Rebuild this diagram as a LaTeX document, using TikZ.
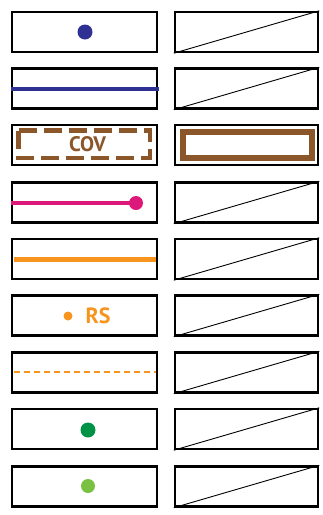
\documentclass[tikz,border=0pt]{standalone}
\usepackage{fontspec}
\setmainfont{PT Sans}
\definecolor{dblue}{RGB}{46,49,146}
\definecolor{brownc}{RGB}{139,87,42}
\definecolor{magc}{RGB}{220,24,122}
\definecolor{orangec}{RGB}{247,148,30}
\definecolor{dgreen}{RGB}{0,146,69}
\definecolor{lgreen}{RGB}{122,193,67}
\begin{document}
\begin{tikzpicture}[x=1pt,y=-1pt,
  lbox/.style={draw=black,line width=2.4pt,rectangle,inner sep=0pt,minimum width=145pt,minimum height=40pt},
  rbox/.style={draw=black,line width=2.4pt,rectangle,inner sep=0pt,minimum width=143pt,minimum height=40pt},
  diag/.style={draw=black,line width=0.9pt},
  dotmark/.style={circle,inner sep=0pt,minimum size=15pt},
  lbl/.style={font=\bfseries,inner sep=0pt}]
\useasboundingbox (0,0) rectangle (322,515);
% left and right boxes
\foreach \i/\y in {1/32,2/88.5,3/145,4/202.5,5/259,6/315.5,7/372.5,8/429,9/486.5}{
  \node[lbox] (L\i) at (84.5,\y) {};
  \node[rbox] (R\i) at (246.5,\y) {};
}
\foreach \i in {1,2,4,5,6,7,8,9}{
  \draw[diag] (R\i.south west) -- (R\i.north east);
}
% row 1
\node[dotmark,fill=dblue] (d1) at (85,32) {};
% row 2
\coordinate (b2a) at (11,89);
\coordinate (b2b) at (159,89);
\draw[dblue,line width=4pt] (b2a) -- (b2b);
% row 3
\draw[brownc,line width=4.5pt,dash pattern=on 18pt off 7pt] (18.5,130.5) rectangle (150,158);
\node[lbl,text=brownc,font=\bfseries\fontsize{21}{21}\selectfont] (cov) at (87.5,144) {COV};
\draw[brownc,line width=5.5pt] (183,132) rectangle (312,158);
% row 4
\coordinate (m4a) at (11,203);
\node[dotmark,fill=magc,minimum size=14pt] (m4b) at (136,203) {};
\draw[magc,line width=4pt] (m4a) -- (m4b.center);
% row 5
\coordinate (o5a) at (14,259);
\coordinate (o5b) at (155.5,259);
\draw[orangec,line width=5pt] (o5a) -- (o5b);
% row 6
\node[dotmark,fill=orangec,minimum size=9pt] (o6) at (68,316) {};
\node[lbl,text=orangec,font=\bfseries\fontsize{22}{22}\selectfont] (rs) at (98,316) {RS};
% row 7
\coordinate (o7a) at (14,372);
\coordinate (o7b) at (156,372);
\draw[orangec,line width=2.6pt,dash pattern=on 6pt off 4pt] (o7a) -- (o7b);
% row 8, 9
\node[dotmark,fill=dgreen] (g8) at (88,430) {};
\node[dotmark,fill=lgreen,minimum size=14pt] (g9) at (88,486) {};
\end{tikzpicture}
\end{document}
